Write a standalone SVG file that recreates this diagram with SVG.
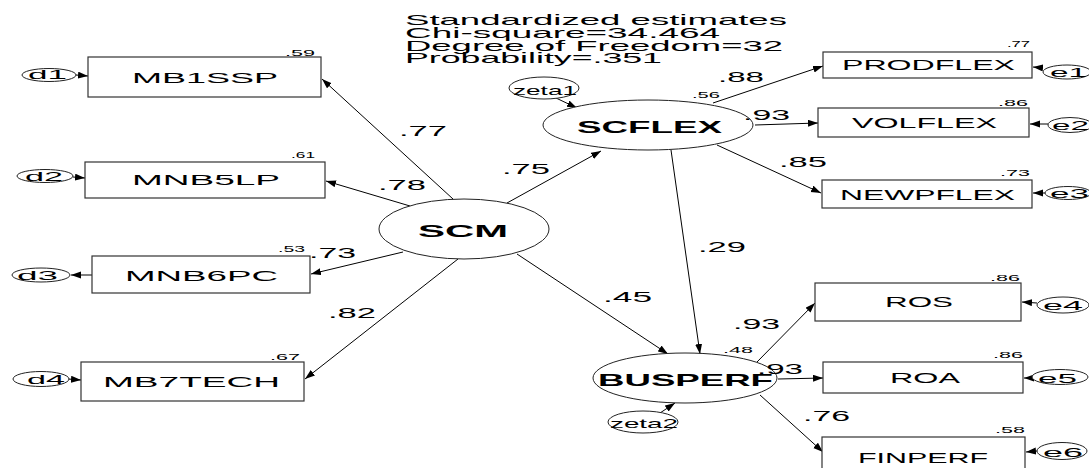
<svg xmlns="http://www.w3.org/2000/svg" width="1089" height="468" viewBox="0 0 1089 468">
<style>
text{font-family:"Liberation Sans",Arial,sans-serif;fill:#000}
.hdr{font-size:15px}
.box{fill:#fff;stroke:#333;stroke-width:1.2}
.ell{fill:#fff;stroke:#222;stroke-width:1}
.lbl{font-size:15px}
.lat{font-size:17px;font-weight:bold}
.r2{font-size:9px}
.coef{font-size:14px}
.err{font-size:13px}
.con line{stroke:#000;stroke-width:1;marker-end:url(#ah)}
</style>
<defs>
<marker id="ah" markerUnits="userSpaceOnUse" markerWidth="11" markerHeight="8" refX="10" refY="3.5" orient="auto">
<path d="M0,0 L10,3.5 L0,7 z" fill="#000"/>
</marker>
</defs>
<rect width="1089" height="468" fill="#fff"/>

<g id="header">
<text class="hdr" x="405" y="25" textLength="382" lengthAdjust="spacingAndGlyphs">Standardized estimates</text>
<text class="hdr" x="405" y="38" textLength="315" lengthAdjust="spacingAndGlyphs">Chi-square=34.464</text>
<text class="hdr" x="405" y="50.5" textLength="378" lengthAdjust="spacingAndGlyphs">Degree of Freedom=32</text>
<text class="hdr" x="405" y="63" textLength="257" lengthAdjust="spacingAndGlyphs">Probability=.351</text>
</g>

<g class="con" id="connectors">
<line x1="453" y1="199" x2="322" y2="79"/>
<line x1="410" y1="206" x2="326" y2="181"/>
<line x1="403" y1="252" x2="311" y2="274"/>
<line x1="458" y1="259" x2="305" y2="379"/>
<line x1="507" y1="203" x2="601" y2="151"/>
<line x1="517" y1="254" x2="668" y2="354"/>
<line x1="671" y1="150" x2="700" y2="354"/>
<line x1="556" y1="98" x2="577" y2="108"/>
<line x1="660" y1="413" x2="675" y2="403"/>
<line x1="713" y1="103" x2="823" y2="66"/>
<line x1="755" y1="125" x2="818" y2="123"/>
<line x1="717" y1="145" x2="821" y2="193"/>
<line x1="757" y1="362" x2="815" y2="303"/>
<line x1="778" y1="379" x2="823" y2="378"/>
<line x1="760" y1="395" x2="823" y2="452"/>
<line x1="1043" y1="68" x2="1033" y2="67"/>
<line x1="1048" y1="124" x2="1030" y2="124"/>
<line x1="1045" y1="193" x2="1033" y2="193"/>
<line x1="1037" y1="303" x2="1022" y2="302"/>
<line x1="1032" y1="378" x2="1024" y2="378"/>
<line x1="1037" y1="451" x2="1026" y2="452"/>
<line x1="76" y1="75" x2="88" y2="76"/>
<line x1="73" y1="177" x2="85" y2="178"/>
<line x1="92" y1="275" x2="71" y2="275"/>
<line x1="68" y1="379" x2="81" y2="380"/>
</g>

<g id="MB1SSP">
<rect class="box" x="88" y="57" width="233" height="40"/>
<text class="lbl" x="132" y="83" textLength="146" lengthAdjust="spacingAndGlyphs">MB1SSP</text>
<text class="r2" x="285" y="56" textLength="30" lengthAdjust="spacingAndGlyphs">.59</text>
</g>
<g id="MNB5LP">
<rect class="box" x="85" y="162" width="240" height="36"/>
<text class="lbl" x="132" y="185" textLength="148" lengthAdjust="spacingAndGlyphs">MNB5LP</text>
<text class="r2" x="291" y="158" textLength="24" lengthAdjust="spacingAndGlyphs">.61</text>
</g>
<g id="MNB6PC">
<rect class="box" x="92" y="256" width="218" height="37"/>
<text class="lbl" x="125" y="281" textLength="153" lengthAdjust="spacingAndGlyphs">MNB6PC</text>
<text class="r2" x="278" y="252" textLength="27" lengthAdjust="spacingAndGlyphs">.53</text>
</g>
<g id="MB7TECH">
<rect class="box" x="81" y="362" width="223" height="39"/>
<text class="lbl" x="103" y="387" textLength="177" lengthAdjust="spacingAndGlyphs">MB7TECH</text>
<text class="r2" x="270" y="360" textLength="30" lengthAdjust="spacingAndGlyphs">.67</text>
</g>
<g id="PRODFLEX">
<rect class="box" x="823" y="52" width="209" height="26"/>
<text class="lbl" x="842" y="70" textLength="173" lengthAdjust="spacingAndGlyphs">PRODFLEX</text>
<text class="r2" x="1007" y="47" textLength="23" lengthAdjust="spacingAndGlyphs">.77</text>
</g>
<g id="VOLFLEX">
<rect class="box" x="818" y="108" width="211" height="29"/>
<text class="lbl" x="852" y="128" textLength="145" lengthAdjust="spacingAndGlyphs">VOLFLEX</text>
<text class="r2" x="998" y="106" textLength="30" lengthAdjust="spacingAndGlyphs">.86</text>
</g>
<g id="NEWPFLEX">
<rect class="box" x="822" y="180" width="210" height="28"/>
<text class="lbl" x="840" y="200" textLength="175" lengthAdjust="spacingAndGlyphs">NEWPFLEX</text>
<text class="r2" x="1000" y="176" textLength="30" lengthAdjust="spacingAndGlyphs">.73</text>
</g>
<g id="ROS">
<rect class="box" x="815" y="283" width="206" height="38"/>
<text class="lbl" x="885" y="307" textLength="68" lengthAdjust="spacingAndGlyphs">ROS</text>
<text class="r2" x="990" y="281" textLength="30" lengthAdjust="spacingAndGlyphs">.86</text>
</g>
<g id="ROA">
<rect class="box" x="823" y="362" width="200" height="31"/>
<text class="lbl" x="890" y="383" textLength="70" lengthAdjust="spacingAndGlyphs">ROA</text>
<text class="r2" x="993" y="358" textLength="30" lengthAdjust="spacingAndGlyphs">.86</text>
</g>
<g id="FINPERF">
<rect class="box" x="822" y="437" width="203" height="40"/>
<text class="lbl" x="858" y="463" textLength="130" lengthAdjust="spacingAndGlyphs">FINPERF</text>
<text class="r2" x="995" y="433" textLength="30" lengthAdjust="spacingAndGlyphs">.58</text>
</g>

<g id="SCM">
<ellipse class="ell" cx="464" cy="229" rx="85" ry="30"/>
<text class="lat" x="418" y="237" textLength="90" lengthAdjust="spacingAndGlyphs">SCM</text>
</g>
<g id="SCFLEX">
<ellipse class="ell" cx="648" cy="125" rx="105" ry="25"/>
<text class="lat" x="577" y="133" textLength="145" lengthAdjust="spacingAndGlyphs">SCFLEX</text>
<text class="r2" x="692" y="98" textLength="28" lengthAdjust="spacingAndGlyphs">.56</text>
</g>
<g id="BUSPERF">
<ellipse class="ell" cx="685" cy="378" rx="92" ry="25"/>
<text class="lat" x="598" y="386" textLength="175" lengthAdjust="spacingAndGlyphs">BUSPERF</text>
<text class="r2" x="723" y="353" textLength="30" lengthAdjust="spacingAndGlyphs">.48</text>
</g>

<g id="zeta1">
<ellipse class="ell" cx="544" cy="88" rx="35" ry="11"/>
<text class="err" x="513" y="95" textLength="64" lengthAdjust="spacingAndGlyphs">zeta1</text>
</g>
<g id="zeta2">
<ellipse class="ell" cx="643" cy="422" rx="35" ry="11"/>
<text class="err" x="610" y="428" textLength="68" lengthAdjust="spacingAndGlyphs">zeta2</text>
</g>

<g id="d1"><ellipse class="ell" cx="49" cy="75" rx="27" ry="6.5"/><text class="err" x="28" y="79" textLength="39" lengthAdjust="spacingAndGlyphs">d1</text></g>
<g id="d2"><ellipse class="ell" cx="45" cy="176" rx="28" ry="6.5"/><text class="err" x="25" y="181" textLength="38" lengthAdjust="spacingAndGlyphs">d2</text></g>
<g id="d3"><ellipse class="ell" cx="41" cy="275" rx="29" ry="7"/><text class="err" x="17" y="280" textLength="41" lengthAdjust="spacingAndGlyphs">d3</text></g>
<g id="d4"><ellipse class="ell" cx="41" cy="379" rx="28" ry="7.5"/><text class="err" x="27" y="384" textLength="38" lengthAdjust="spacingAndGlyphs">d4</text></g>

<g id="e1"><ellipse class="ell" cx="1067" cy="72" rx="24" ry="7"/><text class="err" x="1050" y="77" textLength="37" lengthAdjust="spacingAndGlyphs">e1</text></g>
<g id="e2"><ellipse class="ell" cx="1070" cy="125" rx="22" ry="7.5"/><text class="err" x="1052" y="130" textLength="37" lengthAdjust="spacingAndGlyphs">e2</text></g>
<g id="e3"><ellipse class="ell" cx="1068" cy="193" rx="23" ry="6.5"/><text class="err" x="1050" y="198" textLength="39" lengthAdjust="spacingAndGlyphs">e3</text></g>
<g id="e4"><ellipse class="ell" cx="1063" cy="305" rx="26" ry="8"/><text class="err" x="1043" y="310" textLength="40" lengthAdjust="spacingAndGlyphs">e4</text></g>
<g id="e5"><ellipse class="ell" cx="1060" cy="377" rx="28" ry="7.5"/><text class="err" x="1038" y="383" textLength="39" lengthAdjust="spacingAndGlyphs">e5</text></g>
<g id="e6"><ellipse class="ell" cx="1062" cy="451" rx="25" ry="8.5"/><text class="err" x="1043" y="457" textLength="40" lengthAdjust="spacingAndGlyphs">e6</text></g>

<g id="coefficients">
<text class="coef" x="399" y="136" textLength="48" lengthAdjust="spacingAndGlyphs">.77</text>
<text class="coef" x="378" y="190" textLength="48" lengthAdjust="spacingAndGlyphs">.78</text>
<text class="coef" x="309" y="258" textLength="47" lengthAdjust="spacingAndGlyphs">.73</text>
<text class="coef" x="328" y="318" textLength="48" lengthAdjust="spacingAndGlyphs">.82</text>
<text class="coef" x="502" y="174" textLength="48" lengthAdjust="spacingAndGlyphs">.75</text>
<text class="coef" x="603" y="302" textLength="49" lengthAdjust="spacingAndGlyphs">.45</text>
<text class="coef" x="698" y="252" textLength="48" lengthAdjust="spacingAndGlyphs">.29</text>
<text class="coef" x="718" y="82" textLength="46" lengthAdjust="spacingAndGlyphs">.88</text>
<text class="coef" x="743" y="120" textLength="47" lengthAdjust="spacingAndGlyphs">.93</text>
<text class="coef" x="779" y="167" textLength="48" lengthAdjust="spacingAndGlyphs">.85</text>
<text class="coef" x="733" y="329" textLength="47" lengthAdjust="spacingAndGlyphs">.93</text>
<text class="coef" x="757" y="374" textLength="46" lengthAdjust="spacingAndGlyphs">.93</text>
<text class="coef" x="803" y="421" textLength="47" lengthAdjust="spacingAndGlyphs">.76</text>
</g>
</svg>
